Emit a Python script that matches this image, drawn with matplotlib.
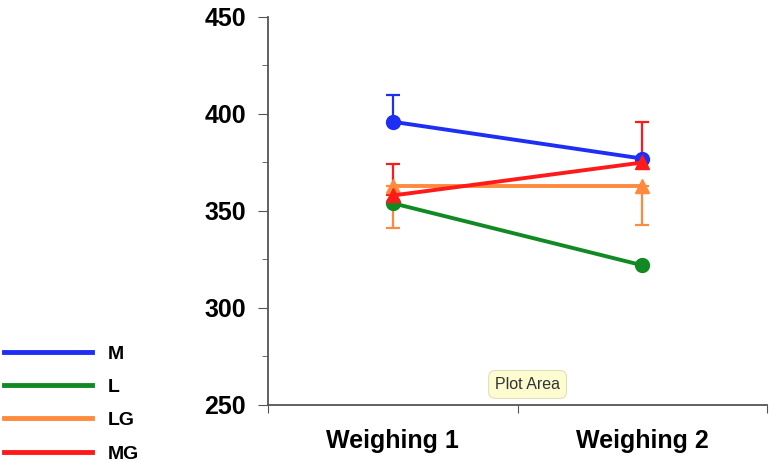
import matplotlib

matplotlib.use("Agg")
import matplotlib.pyplot as plt
from matplotlib.ticker import MultipleLocator, FixedLocator, NullFormatter

plt.rcParams.update({"font.family": ["Liberation Sans", "DejaVu Sans"], "font.weight": "bold"})

categories = ["Weighing 1", "Weighing 2"]
series = ["M", "L", "LG", "MG"]
colors = {"M": "#1f2ef5", "L": "#128a23", "LG": "#ff8a3d", "MG": "#ff1a1a"}
markers = {"M": "o", "L": "o", "LG": "^", "MG": "^"}
values = {
    "M": [396, 377],
    "L": [354, 322],
    "LG": [363, 363],
    "MG": [358, 375],
}
# one-sided error bars as drawn in the source (lower, upper)
err_lower = {"M": [0, 0], "L": [0, 0], "LG": [22, 20], "MG": [0, 0]}
err_upper = {"M": [14, 0], "L": [0, 0], "LG": [0, 0], "MG": [16, 21]}

fig = plt.figure(figsize=(7.71, 4.63), dpi=100)
ax = fig.add_axes([0.3476, 0.1253, 0.6475, 0.838])

xs = [0.5, 1.5]
for s in series:
    ax.errorbar(xs, values[s], yerr=[err_lower[s], err_upper[s]], color=colors[s],
                lw=2.8, marker=markers[s], ms=10, capsize=5, elinewidth=1.6,
                capthick=1.6, ecolor=colors[s], label=s, zorder=3)

ax.set_xlim(0, 2)
ax.set_ylim(250, 450)
ax.yaxis.set_major_locator(MultipleLocator(50))
ax.yaxis.set_minor_locator(MultipleLocator(25))
ax.xaxis.set_major_locator(FixedLocator([0, 1, 2]))
ax.xaxis.set_major_formatter(NullFormatter())
ax.xaxis.set_minor_locator(FixedLocator(xs))
ax.set_xticks(xs, categories, minor=True)
ax.tick_params(axis="x", which="minor", length=0, labelsize=18, pad=17)
ax.tick_params(axis="x", which="major", length=6, color="#555555")
ax.tick_params(axis="y", which="major", length=7, labelsize=18, color="#555555", pad=9)
ax.tick_params(axis="y", which="minor", length=4, color="#555555")
for side in ("top", "right"):
    ax.spines[side].set_visible(False)
for side in ("left", "bottom"):
    ax.spines[side].set_color("#555555")
    ax.spines[side].set_linewidth(1.3)

handles = [plt.Line2D([], [], color=colors[s], lw=3.5) for s in series]
fig.legend(handles, series, loc="lower left", bbox_to_anchor=(-0.017, -0.037),
           frameon=False, handlelength=4.5, handletextpad=0.8, labelspacing=0.81,
           prop={"size": 14, "weight": "bold"})

ax.text(1.04, 260.6, "Plot Area", ha="center", va="center", fontsize=11.5,
        fontweight="normal", color="#333333",
        bbox=dict(boxstyle="round,pad=0.4", fc="#fdfbd0", ec="#d8d6b0", lw=0.6))

fig.savefig("out.png")
